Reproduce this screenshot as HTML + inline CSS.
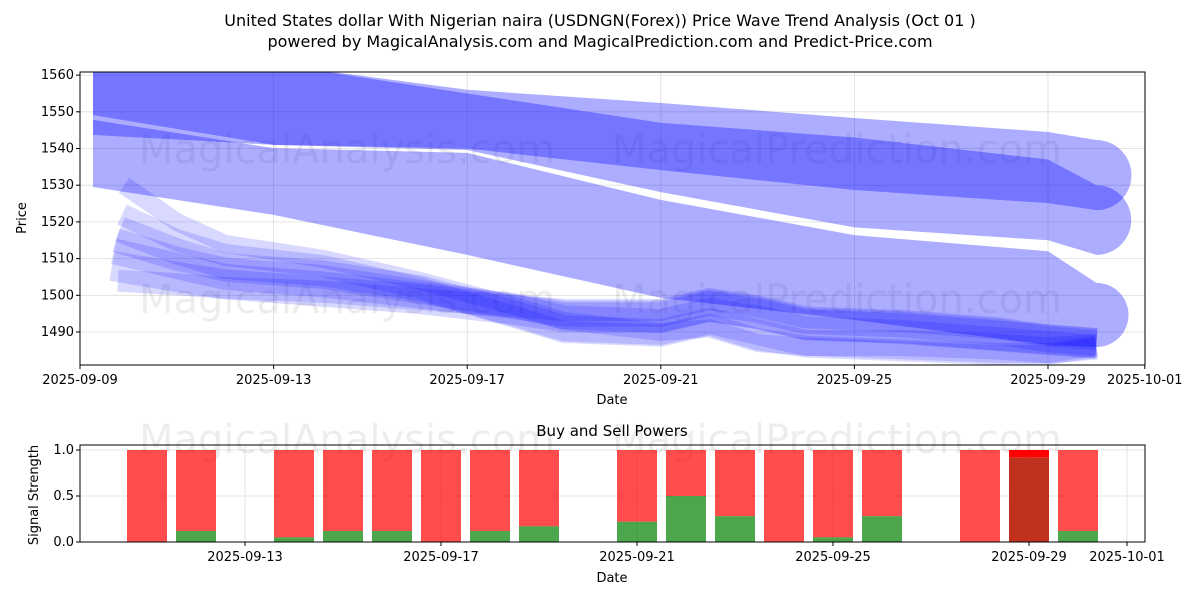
<!DOCTYPE html>
<html><head><meta charset="utf-8"><style>
body{margin:0;background:#fff;font-family:"Liberation Sans","DejaVu Sans",sans-serif}
svg text{font-family:"DejaVu Sans","Liberation Sans",sans-serif}
</style></head><body>
<svg id="c" width="1200" height="600" xmlns="http://www.w3.org/2000/svg">
<text x="600" y="26" text-anchor="middle" font-size="16">United States dollar With Nigerian naira (USDNGN(Forex)) Price Wave Trend Analysis (Oct 01 )</text>
<text x="600" y="47" text-anchor="middle" font-size="16">powered by MagicalAnalysis.com and MagicalPrediction.com and Predict-Price.com</text>
<g id="main"></g><g id="sub"></g>
</svg>
<script>
const waveDays=[0,4,8,12,16,20,21];
const bandPUpper=[1563,1563,1556,1552.4,1548.3,1544.5,1542.3];
const bandPLower=[1543.7,1541,1540,1534.1,1528.7,1525.1,1523.2];
const bandQUpper=[1569,1563,1555,1547,1543,1537,1530];
const bandQLower=[1549.1,1541,1539.6,1528.1,1518.5,1515,1511];
const bandRUpper=[1547.8,1540.1,1538.8,1526,1516.4,1512,1503.4];
const bandRLower=[1529.5,1521.9,1511,1499.3,1493.3,1486.5,1485.9];
const lowDays=[1,2,3,5,7,9,10,12,13,14,15,17,19,20,21];
const low1=[1508,1505,1503,1501,1499,1496,1494,1494,1497,1495,1492,1491,1489,1488,1487];
const low2=[1512,1508,1505,1503,1500,1497,1495,1495,1498,1496,1493,1492,1490,1488,1487];
const low3=[1515,1510,1507,1505,1501,1497,1494,1493,1496,1494,1491,1490,1488,1487,1486];
const low4=[1504,1503,1502,1501,1499,1497,1496,1496,1499,1497,1494,1493,1491,1489,1488];
const low5=[1518,1512,1508,1506,1502,1495,1491,1490,1493,1490,1487,1487,1486,1485,1486];
const low6=[1522,1515,1511,1508,1502,1494,1490,1489,1492,1488,1486,1485,1484,1484,1486];
const low7=[1530,1520,1514,1510,1504,1497,1493,1490,1491,1487,1486,1485,1484,1484,1486];
const yTicks=[1490,1500,1510,1520,1530,1540,1550,1560];
const xTickLabels=["2025-09-09","2025-09-13","2025-09-17","2025-09-21","2025-09-25","2025-09-29","2025-10-01"];
const xTickDays=[0,4,8,12,16,20,22];
const barDays=[2,3,5,6,7,8,9,10,12,13,14,15,16,17,19,20,21];
const buyVals=[0,0.12,0.05,0.12,0.12,0,0.12,0.17,0.22,0.5,0.28,0,0.05,0.28,0,0.92,0.12];
const sigTicks=[0,0.5,1.0];
const NS="http://www.w3.org/2000/svg";
function mk(p,t,a){const e=document.createElementNS(NS,t);for(const k in a)e.setAttribute(k,a[k]);p.appendChild(e);return e;}
const main=document.getElementById('main'),sub=document.getElementById('sub');
const X0=80,X1=1145,Y0=72,Y1=365;
const xs=d=>80+d*48.4;
const ys=v=>332-(v-1490)*3.67;
yTicks.forEach(v=>{const l=mk(main,'line',{x1:X0,x2:X1,y1:ys(v),y2:ys(v),stroke:'#ddd','stroke-width':0.8});

const t=mk(main,'text',{x:X0-6,y:ys(v)+4,'text-anchor':'end','font-size':13});t.textContent=v;

mk(main,'line',{x1:X0-4,x2:X0,y1:ys(v),y2:ys(v),stroke:'#000'});});
xTickDays.forEach((d,i)=>{mk(main,'line',{x1:xs(d),x2:xs(d),y1:Y0,y2:Y1,stroke:'#ddd','stroke-width':0.8});
mk(main,'line',{x1:xs(d),x2:xs(d),y1:Y1,y2:Y1+4,stroke:'#000'});
const t=mk(main,'text',{x:xs(d),y:Y1+19,'text-anchor':'middle','font-size':13});t.textContent=xTickLabels[i];
});
[[347,150],[837,150],[347,300],[837,300]].forEach((p,i)=>{const t=mk(main,'text',{x:p[0],y:p[1]+13,'text-anchor':'middle','font-size':40,fill:'#000','fill-opacity':0.07});t.textContent=i%2?'MagicalPrediction.com':'MagicalAnalysis.com';
});
const clip=mk(main,'clipPath',{id:'cp'});mk(clip,'rect',{x:X0,y:Y0,width:X1-X0,height:Y1-Y0});
const g=mk(main,'g',{'clip-path':'url(#cp)'});
function fband(days,up,lo,op,name){
  const n=days.length;const xx=days.map((d,i)=>i==0?93:xs(d));
  const top=xx.map((x,i)=>[x,ys(up[i])]),bot=xx.map((x,i)=>[x,ys(lo[i])]);
  const r=(bot[n-1][1]-top[n-1][1])/2;
  let d='M'+top.map(p=>p.join(',')).join(' L');
  d+=' A'+r+','+r+' 0 0 1 '+bot[n-1].join(',');
  d+=' L'+bot.slice().reverse().map(p=>p.join(',')).join(' L')+' Z';
  const p=mk(g,'path',{d:d,fill:'#0000ff','fill-opacity':op});
  }
fband(waveDays,bandRUpper,bandRLower,0.32,'wave-band-3');
fband(waveDays,bandQUpper,bandQLower,0.32,'wave-band-2');
fband(waveDays,bandPUpper,bandPLower,0.32,'wave-band-1');
function line(days,vals,w,op,name,start){const pts=days.map((d,i)=>[i==0?start:xs(d),ys(vals[i])]);
const p=mk(g,'path',{d:'M'+pts.map(p=>p.join(',')).join(' L'),fill:'none',stroke:'#0000ff','stroke-opacity':op,'stroke-width':w,'stroke-linecap':'butt','stroke-linejoin':'round'});
}
[low1,low2,low3,low4,low5,low6,low7].forEach((s,i)=>line(lowDays,s,[30,26,24,22,26,22,18][i],0.15,'short-wave-'+(i+1),112+i*2));
mk(main,'rect',{x:X0,y:Y0,width:X1-X0,height:Y1-Y0,fill:'none',stroke:'#000','stroke-width':1});
let t=mk(main,'text',{x:612,y:404,'text-anchor':'middle','font-size':13});t.textContent='Date';

t=mk(main,'text',{x:26,y:218,'text-anchor':'middle','font-size':13,transform:'rotate(-90 26 218)'});t.textContent='Price';

const SY0=445,SY1=542;
const bx=d=>49+d*49;
const sy=v=>542-v*92;
t=mk(sub,'text',{x:612,y:436,'text-anchor':'middle','font-size':15});t.textContent='Buy and Sell Powers';

sigTicks.forEach(v=>{mk(sub,'line',{x1:X0,x2:X1,y1:sy(v),y2:sy(v),stroke:'#ddd','stroke-width':0.8});
mk(sub,'line',{x1:X0-4,x2:X0,y1:sy(v),y2:sy(v),stroke:'#000'});
const tt=mk(sub,'text',{x:X0-6,y:sy(v)+4,'text-anchor':'end','font-size':13});tt.textContent=v.toFixed(1);
});
[4,8,12,16,20,22].forEach((d,i)=>{mk(sub,'line',{x1:bx(d),x2:bx(d),y1:SY0,y2:SY1,stroke:'#ddd','stroke-width':0.8});
mk(sub,'line',{x1:bx(d),x2:bx(d),y1:SY1,y2:SY1+4,stroke:'#000'});
const tt=mk(sub,'text',{x:bx(d),y:SY1+19,'text-anchor':'middle','font-size':13});tt.textContent=xTickLabels[i+1];
});
[[347,440],[837,440]].forEach((p,i)=>{const tt=mk(sub,'text',{x:p[0],y:p[1]+13,'text-anchor':'middle','font-size':40,'fill-opacity':0.07});tt.textContent=i?'MagicalPrediction.com':'MagicalAnalysis.com';
});
barDays.forEach((d,i)=>{const b=buyVals[i];
const r=mk(sub,'rect',{x:bx(d)-20,y:sy(1),width:40,height:sy(b)-sy(1),fill:'#ff0000','fill-opacity':0.7});

const gr=mk(sub,'rect',{x:bx(d)-20,y:sy(b),width:40,height:sy(0)-sy(b),fill:'#008000','fill-opacity':0.7});

if(b>0.8){gr.setAttribute('fill','#c0321e');gr.setAttribute('fill-opacity',1);r.setAttribute('fill-opacity',1);}});
mk(sub,'rect',{x:X0,y:SY0,width:X1-X0,height:SY1-SY0,fill:'none',stroke:'#000'});
t=mk(sub,'text',{x:612,y:582,'text-anchor':'middle','font-size':13});t.textContent='Date';

t=mk(sub,'text',{x:38,y:495,'text-anchor':'middle','font-size':13,transform:'rotate(-90 38 495)'});t.textContent='Signal Strength';

</script>
</body></html>
